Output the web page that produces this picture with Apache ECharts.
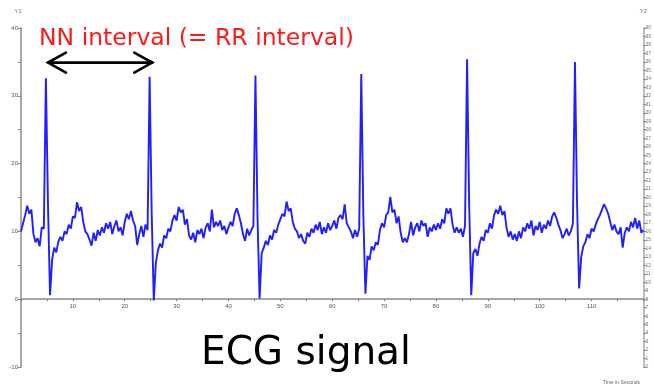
<!DOCTYPE html>
<html><head><meta charset="utf-8">
<script src="https://cdn.jsdelivr.net/npm/echarts@6/dist/echarts.min.js"></script>
<style>html,body{margin:0;padding:0;background:#fff}#c{width:654px;height:385px}</style>
</head><body><div id="c"></div>
<script>
// Sampling grid of the trace (seconds between samples)
const sampleStep = 0.4;
// ECG amplitude, one value per 0.4 s from 0 to 120 s
const ecgSignal = [
  10.0, 11.2, 12.4, 13.8, 12.6, 13.2, 9.6, 8.4, 9.0, 7.8, 10.6, 10.4,
  32.6, 14.0, 0.6, 5.8, 7.6, 6.9, 8.5, 9.2, 8.6, 10.0, 9.6, 11.0, 10.4, 12.2, 12.0, 14.3, 13.0, 13.6,
  11.4, 10.0, 9.6, 8.8, 7.9, 9.8, 8.6, 10.2, 9.4, 10.6, 9.8, 11.2, 10.4, 11.4, 9.6, 10.8, 11.6, 10.0,
  10.6, 9.4, 11.4, 12.6, 11.8, 13.0, 11.6, 10.8, 8.0, 9.6, 10.8, 9.2, 11.0, 10.2,
  32.8, 12.5, -0.2, 5.4, 7.2, 8.2, 7.6, 9.4, 9.0, 10.4, 10.0, 11.6, 12.4, 11.6, 13.6, 12.8, 13.2,
  11.0, 11.8, 9.4, 8.8, 9.8, 8.4, 10.2, 9.6, 10.4, 9.0, 10.6, 11.2, 10.0, 13.2, 10.6, 11.4, 10.8,
  11.6, 10.2, 10.8, 9.6, 10.6, 11.4, 10.8, 12.6, 13.4, 12.4, 11.2, 9.6, 8.6, 10.4, 9.4, 10.2, 10.8,
  33.0, 12.0, 0.1, 6.8, 7.6, 8.6, 8.0, 9.4, 8.8, 10.2, 9.8, 11.0, 11.8, 12.6, 12.2, 14.4, 13.0, 13.4,
  11.4, 10.4, 10.0, 9.0, 9.6, 8.6, 8.2, 9.8, 9.2, 10.4, 9.8, 11.0, 10.2, 11.4, 9.6, 10.6, 9.8, 11.2,
  10.2, 10.8, 11.6, 10.4, 12.0, 12.4, 11.8, 14.0, 11.2, 10.6, 10.0, 9.0, 10.2, 9.2, 10.4,
  33.2, 12.4, 0.8, 6.4, 5.8, 7.8, 7.2, 8.4, 8.0, 10.2, 11.2, 10.6, 12.4, 12.8, 15.1, 12.8, 13.2,
  11.2, 12.2, 9.8, 8.4, 9.0, 8.4, 9.6, 11.4, 9.4, 10.6, 11.2, 10.0, 11.6, 10.8, 11.2, 9.2, 10.6,
  10.0, 11.0, 10.2, 11.2, 10.4, 11.8, 11.2, 13.4, 12.6, 13.4, 11.0, 9.8, 10.6, 9.8, 10.4, 9.2, 10.8,
  35.4, 14.0, 0.6, 6.8, 7.4, 6.4, 8.2, 9.2, 8.6, 10.2, 9.8, 11.2, 10.4, 12.4, 13.2, 12.6, 13.8,
  12.4, 13.0, 10.6, 9.2, 10.0, 8.8, 9.6, 8.6, 10.0, 9.0, 10.6, 10.0, 11.2, 10.4, 11.6, 9.4, 10.8,
  10.2, 11.4, 9.8, 11.0, 10.4, 11.6, 10.8, 12.2, 12.8, 12.0, 11.0, 10.2, 9.0, 9.6, 10.4, 9.4, 10.0, 11.2,
  35.0, 14.2, 1.6, 6.2, 7.8, 8.4, 9.6, 9.0, 10.4, 10.0, 11.0, 11.8, 12.4, 13.2, 14.0, 13.4, 12.6,
  11.4, 10.2, 11.0, 10.0, 9.6, 10.6, 7.6, 9.8, 10.6, 10.0, 11.4, 10.6, 12.0, 10.4, 11.6, 9.8, 10.2
];
const xTickLabels = [10, 20, 30, 40, 50, 60, 70, 80, 90, 100, 110];
const yTickLabels = [-10, 0, 10, 20, 30, 40];
// NN interval arrow: from first to second R peak (seconds), drawn at this level
const nnArrowTimes = [5.2, 25.3];
const nnArrowLevel = 34.9;
const annotationText = 'NN interval (= RR interval)';
const captionText = 'ECG signal';
const xAxisTitle = 'Time in Seconds';

const Y_MIN = -10, Y_MAX = 40;
const GRID = {left: 21, right: 8, top: 28, bottom: 18};
const chartH = 385;
// distance (px) from the bottom of the grid up to the y = 0 level
const zeroOffset = (chartH - GRID.top - GRID.bottom) * (0 - Y_MIN) / (Y_MAX - Y_MIN);

const chart = echarts.init(document.getElementById('c'), null, {renderer: 'canvas'});
const seriesData = ecgSignal.map((v, i) => [Math.round(i * sampleStep * 100) / 100, v]);

const option = {
  animation: false,
  backgroundColor: '#fff',
  grid: GRID,
  xAxis: {
    type: 'value', min: 0, max: 120, interval: 5, position: 'bottom', offset: -zeroOffset,
    axisLine: {onZero: false, lineStyle: {color: '#8a8a8a', width: 1.5}},
    axisTick: {show: true, length: 2, lineStyle: {color: '#777'}},
    axisLabel: {fontSize: 6, color: '#555', margin: 4, fontFamily: 'Liberation Sans',
      formatter: v => xTickLabels.includes(v) ? String(v) : ''},
    splitLine: {show: false}
  },
  yAxis: [{
    type: 'value', min: Y_MIN, max: Y_MAX, interval: 5,
    axisLine: {show: true, lineStyle: {color: '#a8a8a8', width: 2}},
    axisTick: {show: true, length: 3, lineStyle: {color: '#888'}},
    axisLabel: {fontSize: 6, color: '#555', margin: 3, fontFamily: 'Liberation Sans',
      formatter: v => yTickLabels.includes(v) ? String(v) : ''},
    splitLine: {show: false},
    name: 'Y1', nameLocation: 'end', nameGap: 14,
    nameTextStyle: {fontSize: 6, color: '#777', fontFamily: 'Liberation Sans', padding: [0, 6, 0, 0]}
  }, {
    type: 'value', min: 0, max: 40, interval: 1, position: 'right',
    axisLine: {show: true, lineStyle: {color: '#a8a8a8', width: 1.5}},
    axisTick: {show: true, length: 3, lineStyle: {color: '#888'}},
    axisLabel: {fontSize: 5, color: '#777', margin: 2, fontFamily: 'Liberation Sans'},
    splitLine: {show: false},
    name: 'Y2', nameLocation: 'end', nameGap: 14,
    nameTextStyle: {fontSize: 6, color: '#777', fontFamily: 'Liberation Sans'}
  }],
  series: [{
    type: 'line', data: seriesData, symbol: 'none', yAxisIndex: 0,
    lineStyle: {color: '#1f1fff', width: 1.9}
  }]
};
chart.setOption(option);

const p0 = chart.convertToPixel({gridIndex: 0}, [nnArrowTimes[0], nnArrowLevel]);
const p1 = chart.convertToPixel({gridIndex: 0}, [nnArrowTimes[1], nnArrowLevel]);
const headL = 18, headH = 10;
const arrowStyle = {stroke: '#000', lineWidth: 2.6, fill: null, lineCap: 'round', lineJoin: 'miter'};
chart.setOption({
  graphic: [
    {type: 'line', shape: {x1: p0[0], y1: p0[1], x2: p1[0], y2: p1[1]}, style: arrowStyle},
    {type: 'polyline', shape: {points: [[p0[0] + headL, p0[1] - headH], [p0[0], p0[1]], [p0[0] + headL, p0[1] + headH]]}, style: arrowStyle},
    {type: 'polyline', shape: {points: [[p1[0] - headL, p1[1] - headH], [p1[0], p1[1]], [p1[0] - headL, p1[1] + headH]]}, style: arrowStyle},
    {type: 'text', left: 39, top: 27, style: {text: annotationText, fill: '#ff1a1a', font: '23.5px "DejaVu Sans"'}},
    {type: 'text', left: 201, top: 334, style: {text: captionText, fill: '#000', font: '39px "DejaVu Sans"'}},
    {type: 'text', right: 14, bottom: 0, style: {text: xAxisTitle, fill: '#666', font: '5px "Liberation Sans"'}}
  ]
});
</script>
</body></html>
